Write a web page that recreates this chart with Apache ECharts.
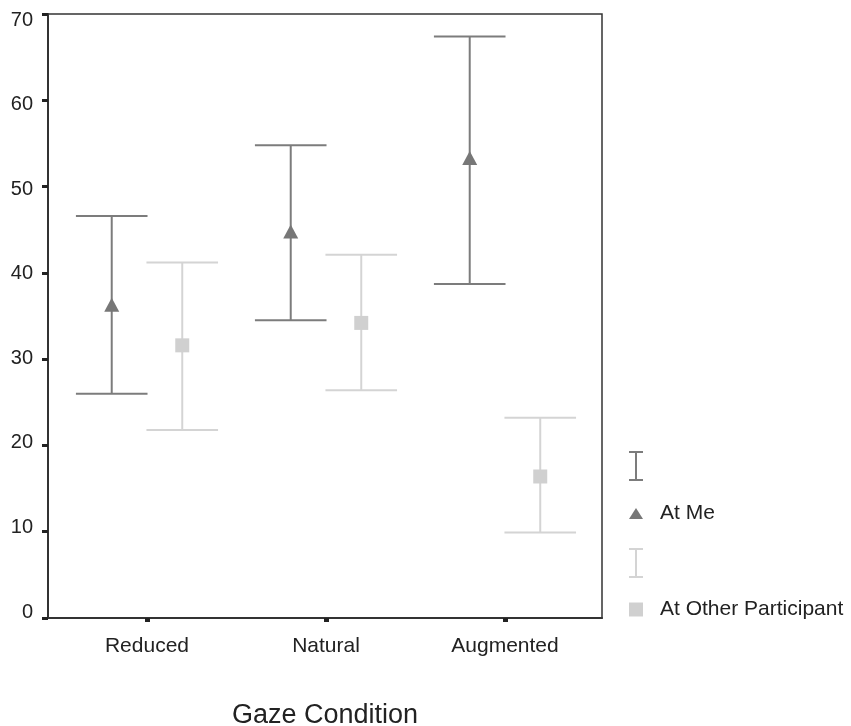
<!DOCTYPE html>
<html>
<head>
<meta charset="utf-8">
<script src="https://cdn.jsdelivr.net/npm/echarts@6/dist/echarts.min.js"></script>
<style>
  html, body { margin: 0; padding: 0; background: #fff; }
  #chart { width: 851px; height: 726px; }
</style>
</head>
<body>
<div id="chart"></div>
<script>
// ---- Data ----
const categories = ['Reduced', 'Natural', 'Augmented'];
const yTicks = [0, 10, 20, 30, 40, 50, 60, 70];

const atMeMean = [36.3, 44.8, 53.3];
const atMeLow  = [26.0, 34.5, 38.7];
const atMeHigh = [46.6, 54.8, 67.4];

const atOtherMean = [31.6, 34.2, 16.4];
const atOtherLow  = [21.8, 26.4, 9.9];
const atOtherHigh = [41.2, 42.1, 23.2];

// ---- Styling ----
const FONT = "'Liberation Sans', Arial, sans-serif";
const ME_COLOR = '#7c7c7c';
const OTHER_COLOR = '#d4d4d4';
const OFFSET = 0.197;   // horizontal dodge in category units
const CAP = 0.2;        // half cap width in category units

function ciRender(params, api) {
  const x = api.value(0);
  const lo = api.coord([x, api.value(1)]);
  const hi = api.coord([x, api.value(2)]);
  const half = api.size([CAP, 0])[0];
  const style = { stroke: api.visual('color'), lineWidth: 2 };
  return {
    type: 'group',
    children: [
      { type: 'line', shape: { x1: lo[0], y1: lo[1], x2: hi[0], y2: hi[1] }, style },
      { type: 'line', shape: { x1: hi[0] - half, y1: hi[1], x2: hi[0] + half, y2: hi[1] }, style },
      { type: 'line', shape: { x1: lo[0] - half, y1: lo[1], x2: lo[0] + half, y2: lo[1] }, style }
    ]
  };
}

const ciIcon = 'path://M0,0H14V2H0Z M6,0H8V30H6Z M0,28H14V30H0Z';
const triIcon = 'path://M7,0L14,11L0,11Z';
const sqIcon = 'path://M0,0H13V13H0Z';

const chart = echarts.init(document.getElementById('chart'), null, { renderer: 'canvas' });

const legendCommon = {
  orient: 'vertical',
  left: 629,
  padding: 0,
  itemWidth: 14,
  itemHeight: 30,
  selectedMode: false,
  textStyle: { fontFamily: FONT, fontSize: 21, color: '#222', padding: [0, 0, 0, 12] },
  formatter: function (name) { return name.indexOf('CI') >= 0 ? '' : name; }
};

chart.setOption({
  animation: false,
  backgroundColor: '#fff',
  textStyle: { fontFamily: FONT },
  grid: {
    left: 48, right: 249, top: 14, bottom: 108,
    outerBoundsMode: 'none',
    containLabel: false,
    show: true, borderColor: '#333', borderWidth: 1.5, backgroundColor: 'transparent'
  },
  legend: [
    Object.assign({}, legendCommon, {
      top: 451, itemGap: 22,
      data: [{ name: 'At Me CI', icon: ciIcon }, { name: 'At Me', icon: triIcon }]
    }),
    Object.assign({}, legendCommon, {
      top: 548, itemGap: 21,
      data: [{ name: 'At Other CI', icon: ciIcon }, { name: 'At Other Participant', icon: sqIcon }]
    })
  ],
  xAxis: {
    type: 'value',
    min: 0.447,
    max: 3.542,
    name: 'Gaze Condition',
    nameLocation: 'middle',
    nameGap: 84,
    nameTextStyle: { fontFamily: FONT, fontSize: 27, color: '#222' },
    axisLine: { show: true, lineStyle: { color: '#333', width: 2 } },
    axisTick: {
      show: true, length: 4, inside: false,
      customValues: [1, 2, 3],
      lineStyle: { color: '#222', width: 5 }
    },
    axisLabel: {
      show: true, margin: 18,
      customValues: [1, 2, 3],
      formatter: function (v) { return categories[Math.round(v) - 1] || ''; },
      fontFamily: FONT, fontSize: 21, color: '#222'
    },
    splitLine: { show: false }
  },
  yAxis: [
    {
      type: 'value',
      min: 0, max: 70, interval: 10,
      axisLine: { show: true, lineStyle: { color: '#333', width: 2 } },
      axisTick: { show: true, length: 6, lineStyle: { color: '#222', width: 3 } },
      axisLabel: { show: false },
      splitLine: { show: false }
    },
    {
      type: 'value',
      position: 'left',
      min: -0.709, max: 70.709,
      axisLine: { show: false },
      axisTick: { show: false },
      splitLine: { show: false },
      axisLabel: {
        show: true, margin: 15,
        customValues: yTicks,
        fontFamily: FONT, fontSize: 20, color: '#222'
      }
    }
  ],
  series: [
    {
      name: 'At Me CI',
      type: 'custom',
      renderItem: ciRender,
      itemStyle: { color: ME_COLOR },
      encode: { x: 0, y: [1, 2] },
      data: categories.map((c, i) => [i + 1 - OFFSET, atMeLow[i], atMeHigh[i]]),
      z: 2
    },
    {
      name: 'At Other CI',
      type: 'custom',
      renderItem: ciRender,
      itemStyle: { color: OTHER_COLOR },
      encode: { x: 0, y: [1, 2] },
      data: categories.map((c, i) => [i + 1 + OFFSET, atOtherLow[i], atOtherHigh[i]]),
      z: 2
    },
    {
      name: 'At Me',
      type: 'scatter',
      symbol: 'triangle',
      symbolSize: [15, 14],
      itemStyle: { color: '#777', opacity: 1 },
      data: categories.map((c, i) => [i + 1 - OFFSET, atMeMean[i]]),
      z: 3
    },
    {
      name: 'At Other Participant',
      type: 'scatter',
      symbol: 'rect',
      symbolSize: 14,
      itemStyle: { color: '#d0d0d0', opacity: 1 },
      data: categories.map((c, i) => [i + 1 + OFFSET, atOtherMean[i]]),
      z: 3
    }
  ]
});
</script>
</body>
</html>
